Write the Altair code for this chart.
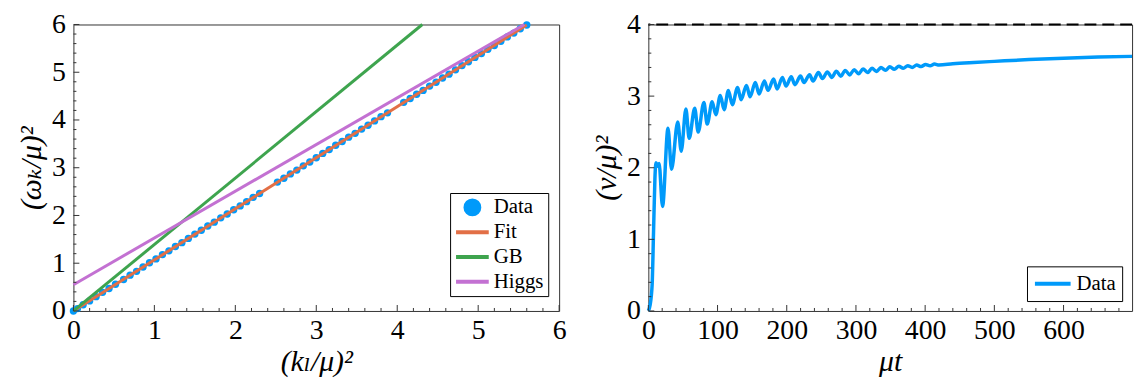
import altair as alt
import pandas as pd

# ---------------- Left panel: dispersion ----------------
k2_data = [0.0, 0.05, 0.12, 0.2, 0.28, 0.36, 0.44, 0.52, 0.62, 0.7, 0.78, 0.86, 0.94,
           1.02, 1.1, 1.18, 1.26, 1.34, 1.42, 1.5, 1.58, 1.66, 1.74, 1.82, 1.9, 1.98,
           2.06, 2.14, 2.22, 2.3, 2.52, 2.6, 2.68, 2.76, 2.84, 2.92, 3.0, 3.08, 3.16,
           3.24, 3.32, 3.4, 3.48, 3.56, 3.64, 3.72, 3.8, 3.88, 4.08, 4.16, 4.24, 4.32,
           4.4, 4.48, 4.56, 4.64, 4.72, 4.8, 4.88, 4.96, 5.04, 5.12, 5.2, 5.28, 5.36,
           5.44, 5.52, 5.6]
w2_data = [0.0, 0.05, 0.13, 0.21, 0.30, 0.39, 0.47, 0.56, 0.66, 0.75, 0.83, 0.92, 1.01,
           1.09, 1.18, 1.26, 1.35, 1.43, 1.52, 1.61, 1.69, 1.78, 1.86, 1.95, 2.03, 2.12,
           2.20, 2.29, 2.38, 2.46, 2.70, 2.78, 2.87, 2.95, 3.04, 3.12, 3.21, 3.30, 3.38,
           3.47, 3.55, 3.64, 3.72, 3.81, 3.89, 3.98, 4.07, 4.15, 4.37, 4.45, 4.54, 4.62,
           4.71, 4.79, 4.88, 4.96, 5.05, 5.14, 5.22, 5.31, 5.39, 5.48, 5.56, 5.65, 5.74,
           5.82, 5.91, 5.99]
fit_x = [0.0, 5.6]
fit_y = [0.0, 5.99]
gb_x = [0.0, 4.31]
gb_y = [0.0, 6.0]
higgs_x = [0.0, 5.57]
higgs_y = [0.55, 6.0]
left_series = ["Data", "Fit", "GB", "Higgs"]

# ---------------- Right panel: v^2 vs time ----------------
t_vals = [0, 2.5, 5.5, 7.5, 9.5, 11.0, 13.3, 15.5, 20.5, 28.4, 33.5, 42.5, 47.5, 54.3,
          59.0, 67.0, 72.0, 80.3, 85.0, 92.2, 97.5, 104.0, 109.5, 115.7, 121.3, 129.0,
          134.0, 141.8, 147.0, 154.6, 160.0, 167.6, 173.0, 181.0, 186.0, 193.8, 199.0,
          206.5, 211.8, 219.9, 225.0, 233.0, 238.0, 245.8, 251.5, 258.7, 265.2, 271.6,
          278.1, 284.5, 291.0, 297.4, 303.9, 310.3, 316.8, 323.2, 329.7, 336.1, 342.6,
          349.0, 355.5, 361.9, 368.4, 374.8, 381.3, 387.7, 394.2, 400.6, 407.1, 413.5,
          420.0, 440.0, 470.0, 500.0, 550.0, 600.0, 650.0, 699.0]
v_vals = [0.0, 0.08, 0.37, 1.10, 1.85, 2.07, 2.02, 2.06, 1.46, 2.55, 1.98, 2.64, 2.23, 2.82,
          2.41, 2.83, 2.50, 2.91, 2.61, 2.92, 2.74, 3.01, 2.81, 3.08, 2.88, 3.12,
          2.95, 3.15, 2.99, 3.19, 3.03, 3.21, 3.08, 3.24, 3.10, 3.26, 3.14,
          3.27, 3.16, 3.28, 3.19, 3.30, 3.21, 3.33, 3.245, 3.338, 3.261, 3.348,
          3.278, 3.359, 3.296, 3.370, 3.313, 3.380, 3.329, 3.389, 3.345, 3.399, 3.361,
          3.409, 3.375, 3.417, 3.389, 3.425, 3.401, 3.433, 3.413, 3.442, 3.424, 3.447,
          3.434, 3.452, 3.470, 3.485, 3.510, 3.530, 3.545, 3.555]
v_limit = [4.0]

# ---------------- ticks ----------------
left_major = [0, 1, 2, 3, 4, 5, 6]
left_minor = [i / 5 for i in range(31) if i % 5]
right_y_major = [0, 1, 2, 3, 4]
right_y_minor = [i / 5 for i in range(21) if i % 5]
right_x_major = [0, 100, 200, 300, 400, 500, 600]
right_x_minor = [i * 20 for i in range(35) if i % 5]

BLUE = "#009AFA"
ORANGE = "#E26F46"
GREEN = "#3EA44E"
PURPLE = "#C371D2"
FONT = "Liberation Serif, Times New Roman, DejaVu Serif, serif"
TICK = "#333333"
# small circle path (unit box -1..1) for the legend "Data" entry
CIRCLE_PATH = "M0.424,0A0.424,0.424,0,1,1,-0.424,0A0.424,0.424,0,1,1,0.424,0Z"

WL, WR, H = 490, 488, 289
MAJ, MIN = 6, 3
FS = 28
TFS = 30


def axis(values, title, pad_t, lab_pad):
    return alt.Axis(values=values, title=title, ticks=False, domain=False, grid=False,
                    labelFont=FONT, labelFontSize=FS, labelColor="black",
                    labelPadding=lab_pad, labelFlush=False, labelOverlap=False,
                    titleFont=FONT, titleFontSize=TFS, titleFontWeight="normal",
                    titleFontStyle="italic", titleColor="black", titlePadding=pad_t)


def tick_layers(xscale, yscale, xax, yax, xmaj, xmin, ymaj, ymin, h):
    layers = []
    for vals, ln in ((ymaj, MAJ), (ymin, MIN)):
        layers.append(alt.Chart(pd.DataFrame({"v": vals})).mark_rule(color=TICK, strokeWidth=1).encode(
            y=alt.Y("v:Q", scale=yscale, axis=yax), x=alt.value(0), x2=alt.value(ln)))
    for vals, ln in ((xmaj, MAJ), (xmin, MIN)):
        layers.append(alt.Chart(pd.DataFrame({"v": vals})).mark_rule(color=TICK, strokeWidth=1).encode(
            x=alt.X("v:Q", scale=xscale, axis=xax), y=alt.value(h), y2=alt.value(h - ln)))
    return layers


# ----- left chart -----
xL = alt.Scale(domain=[0, 6], nice=False, zero=False)
yL = alt.Scale(domain=[0, 6], nice=False, zero=False)
axLx = axis(left_major, "(kₗ/μ)²", 2, 6)
axLy = axis(left_major, "(ωₖ/μ)²", 5, 8)
colL = alt.Scale(domain=left_series, range=[BLUE, ORANGE, GREEN, PURPLE])
shpL = alt.Scale(domain=left_series, range=[CIRCLE_PATH, "stroke", "stroke", "stroke"])

legL = alt.Legend(title=None, orient="none", legendX=380, legendY=H - 119,
                  symbolSize=1089, symbolStrokeWidth=4, clipHeight=21, symbolOpacity=1,
                  labelFont=FONT, labelFontSize=21, labelColor="black", labelOffset=3,
                  strokeColor="black", fillColor="white", padding=4, rowPadding=3)

pts = pd.DataFrame({"x": k2_data, "y": w2_data})
left_pts = alt.Chart(pts).mark_circle(size=55, opacity=1, color=BLUE).encode(
    x=alt.X("x:Q", scale=xL, axis=axLx),
    y=alt.Y("y:Q", scale=yL, axis=axLy),
)


def line_layer(xs, ys, color):
    return alt.Chart(pd.DataFrame({"x": xs, "y": ys})).mark_line(strokeWidth=3, color=color).encode(
        x=alt.X("x:Q", scale=xL, axis=axLx), y=alt.Y("y:Q", scale=yL, axis=axLy))


left_legend = alt.Chart(pd.DataFrame({"series": left_series})).mark_point(
    opacity=0, filled=True).encode(
    fill=alt.Fill("series:N", scale=colL, legend=legL),
    stroke=alt.Stroke("series:N", scale=colL, legend=legL),
    shape=alt.Shape("series:N", scale=shpL, legend=legL),
)
left = alt.layer(left_pts,
                 line_layer(fit_x, fit_y, ORANGE),
                 line_layer(gb_x, gb_y, GREEN),
                 line_layer(higgs_x, higgs_y, PURPLE),
                 left_legend,
                 *tick_layers(xL, yL, axLx, axLy, left_major, left_minor, left_major, left_minor, H)
                 ).properties(width=WL, height=H)

# ----- right chart -----
xR = alt.Scale(domain=[0, 699], nice=False, zero=False)
yR = alt.Scale(domain=[0, 4], nice=False, zero=False)
axRx = axis(right_x_major, "μt", 2, 6)
axRy = axis(right_y_major, "(v/μ)²", 5, 8)
colR = alt.Scale(domain=["Data"], range=[BLUE])
legR = alt.Legend(title=None, orient="none", legendX=382, legendY=H - 45,
                  symbolType="stroke", symbolSize=1296, symbolStrokeWidth=4, clipHeight=23,
                  labelFont=FONT, labelFontSize=21, labelColor="black", labelOffset=4,
                  strokeColor="black", fillColor="white", padding=6)

ts = pd.DataFrame({"t": t_vals, "v": v_vals, "series": "Data"})
right_line = alt.Chart(ts).mark_line(strokeWidth=3.5, interpolate="monotone").encode(
    x=alt.X("t:Q", scale=xR, axis=axRx),
    y=alt.Y("v:Q", scale=yR, axis=axRy),
    color=alt.Color("series:N", scale=colR, legend=legR),
)
right_dash = alt.Chart(pd.DataFrame({"v": v_limit})).mark_rule(
    color="black", strokeWidth=2, strokeDash=[12, 6]).encode(
    y=alt.Y("v:Q", scale=yR, axis=axRy))
right = alt.layer(right_line, right_dash,
                  *tick_layers(xR, yR, axRx, axRy, right_x_major, right_x_minor,
                               right_y_major, right_y_minor, H)
                  ).properties(width=WR, height=H)

chart = alt.hconcat(left, right, spacing=24).resolve_scale(
    color="independent", fill="independent", stroke="independent", shape="independent"
).configure_view(stroke="#333333", strokeWidth=1).configure_axis(
    labelFont=FONT, titleFont=FONT).configure_legend(labelFont=FONT).properties(
    padding={"left": 8, "top": 0, "right": 0, "bottom": 0}, background="white")

chart.save("out.html", embed_options={"renderer": "svg", "actions": False})
